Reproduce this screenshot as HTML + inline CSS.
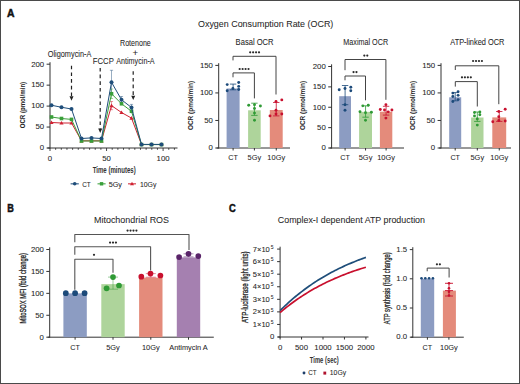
<!DOCTYPE html>
<html><head><meta charset="utf-8"><style>
html,body{margin:0;padding:0;background:#fff;}
svg{display:block;font-family:"Liberation Sans", sans-serif;}
</style></head><body>
<svg width="520" height="384" viewBox="0 0 520 384">
<rect x="0.5" y="0.5" width="519" height="383" fill="#fff" stroke="#4a4a4a" stroke-width="1"/>
<text x="6.9" y="16.8" font-size="10.0" text-anchor="start" font-weight="bold" fill="#111" textLength="7.5" lengthAdjust="spacingAndGlyphs" stroke="#111" stroke-width="0.45">A</text>
<text x="7.2" y="212.1" font-size="10.1" text-anchor="start" font-weight="bold" fill="#111" textLength="6.6" lengthAdjust="spacingAndGlyphs" stroke="#111" stroke-width="0.45">B</text>
<text x="229.0" y="212.1" font-size="10.1" text-anchor="start" font-weight="bold" fill="#111" textLength="6.8" lengthAdjust="spacingAndGlyphs" stroke="#111" stroke-width="0.45">C</text>
<text x="198.0" y="27.2" font-size="9.8" text-anchor="start" font-weight="normal" fill="#262626" textLength="135.3" lengthAdjust="spacingAndGlyphs" stroke="#262626" stroke-width="0.05">Oxygen Consumption Rate (OCR)</text>
<text x="94.0" y="222.6" font-size="9.6" text-anchor="start" font-weight="normal" fill="#262626" textLength="75" lengthAdjust="spacingAndGlyphs" stroke="#262626" stroke-width="0.05">Mitochondrial ROS</text>
<text x="277.8" y="223.0" font-size="9.6" text-anchor="start" font-weight="normal" fill="#262626" textLength="147.2" lengthAdjust="spacingAndGlyphs" stroke="#262626" stroke-width="0.05">Complex-I dependent ATP production</text>
<line x1="50.0" y1="62.2" x2="50.0" y2="148.5" stroke="#333333" stroke-width="1.0"/>
<line x1="46.6" y1="64.2" x2="50.0" y2="64.2" stroke="#333333" stroke-width="1.0"/>
<text x="44.2" y="66.5" font-size="7.8" text-anchor="end" font-weight="normal" fill="#262626" stroke="#262626" stroke-width="0.06">200</text>
<line x1="46.6" y1="85.15" x2="50.0" y2="85.15" stroke="#333333" stroke-width="1.0"/>
<text x="44.2" y="87.45" font-size="7.8" text-anchor="end" font-weight="normal" fill="#262626" stroke="#262626" stroke-width="0.06">150</text>
<line x1="46.6" y1="106.1" x2="50.0" y2="106.1" stroke="#333333" stroke-width="1.0"/>
<text x="44.2" y="108.39999999999999" font-size="7.8" text-anchor="end" font-weight="normal" fill="#262626" stroke="#262626" stroke-width="0.06">100</text>
<line x1="46.6" y1="127.05" x2="50.0" y2="127.05" stroke="#333333" stroke-width="1.0"/>
<text x="44.2" y="129.35" font-size="7.8" text-anchor="end" font-weight="normal" fill="#262626" stroke="#262626" stroke-width="0.06">50</text>
<line x1="46.6" y1="148.0" x2="50.0" y2="148.0" stroke="#333333" stroke-width="1.0"/>
<text x="44.2" y="150.3" font-size="7.8" text-anchor="end" font-weight="normal" fill="#262626" stroke="#262626" stroke-width="0.06">0</text>
<line x1="47.5" y1="148.0" x2="177.5" y2="148.0" stroke="#333333" stroke-width="1.0"/>
<line x1="50.0" y1="148.0" x2="50.0" y2="151.0" stroke="#333333" stroke-width="0.9"/>
<line x1="55.655" y1="148.0" x2="55.655" y2="149.8" stroke="#333333" stroke-width="0.9"/>
<line x1="61.31" y1="148.0" x2="61.31" y2="149.8" stroke="#333333" stroke-width="0.9"/>
<line x1="66.965" y1="148.0" x2="66.965" y2="149.8" stroke="#333333" stroke-width="0.9"/>
<line x1="72.62" y1="148.0" x2="72.62" y2="149.8" stroke="#333333" stroke-width="0.9"/>
<line x1="78.275" y1="148.0" x2="78.275" y2="149.8" stroke="#333333" stroke-width="0.9"/>
<line x1="83.93" y1="148.0" x2="83.93" y2="149.8" stroke="#333333" stroke-width="0.9"/>
<line x1="89.58500000000001" y1="148.0" x2="89.58500000000001" y2="149.8" stroke="#333333" stroke-width="0.9"/>
<line x1="95.24000000000001" y1="148.0" x2="95.24000000000001" y2="149.8" stroke="#333333" stroke-width="0.9"/>
<line x1="100.89500000000001" y1="148.0" x2="100.89500000000001" y2="149.8" stroke="#333333" stroke-width="0.9"/>
<line x1="106.55000000000001" y1="148.0" x2="106.55000000000001" y2="151.0" stroke="#333333" stroke-width="0.9"/>
<line x1="112.20500000000001" y1="148.0" x2="112.20500000000001" y2="149.8" stroke="#333333" stroke-width="0.9"/>
<line x1="117.86" y1="148.0" x2="117.86" y2="149.8" stroke="#333333" stroke-width="0.9"/>
<line x1="123.515" y1="148.0" x2="123.515" y2="149.8" stroke="#333333" stroke-width="0.9"/>
<line x1="129.17000000000002" y1="148.0" x2="129.17000000000002" y2="149.8" stroke="#333333" stroke-width="0.9"/>
<line x1="134.825" y1="148.0" x2="134.825" y2="149.8" stroke="#333333" stroke-width="0.9"/>
<line x1="140.48000000000002" y1="148.0" x2="140.48000000000002" y2="149.8" stroke="#333333" stroke-width="0.9"/>
<line x1="146.135" y1="148.0" x2="146.135" y2="149.8" stroke="#333333" stroke-width="0.9"/>
<line x1="151.79000000000002" y1="148.0" x2="151.79000000000002" y2="149.8" stroke="#333333" stroke-width="0.9"/>
<line x1="157.445" y1="148.0" x2="157.445" y2="149.8" stroke="#333333" stroke-width="0.9"/>
<line x1="163.10000000000002" y1="148.0" x2="163.10000000000002" y2="151.0" stroke="#333333" stroke-width="0.9"/>
<line x1="168.755" y1="148.0" x2="168.755" y2="149.8" stroke="#333333" stroke-width="0.9"/>
<line x1="174.41000000000003" y1="148.0" x2="174.41000000000003" y2="149.8" stroke="#333333" stroke-width="0.9"/>
<text x="50.0" y="160.8" font-size="7.8" text-anchor="middle" font-weight="normal" fill="#262626" stroke="#262626" stroke-width="0.06">0</text>
<text x="106.55" y="160.8" font-size="7.8" text-anchor="middle" font-weight="normal" fill="#262626" stroke="#262626" stroke-width="0.06">50</text>
<text x="163.1" y="160.8" font-size="7.8" text-anchor="middle" font-weight="normal" fill="#262626" stroke="#262626" stroke-width="0.06">100</text>
<text x="92.7" y="173.1" font-size="8.3" text-anchor="start" font-weight="bold" fill="#333" textLength="43.0" lengthAdjust="spacingAndGlyphs">Time (minutes)</text>
<text transform="translate(24.6,105.1) rotate(-90)" x="0" y="0" font-size="7.6" text-anchor="middle" font-weight="bold" fill="#262626" textLength="46.5" lengthAdjust="spacingAndGlyphs">OCR (pmol/min)</text>
<line x1="71.5" y1="65.7" x2="71.5" y2="96.5" stroke="#222" stroke-width="1.2" stroke-dasharray="3.6 3.1"/>
<polygon points="69.5,96.3 73.5,96.3 71.5,100.7" fill="#222"/>
<line x1="100.2" y1="67.9" x2="100.2" y2="128.70000000000002" stroke="#222" stroke-width="1.2" stroke-dasharray="3.6 3.1"/>
<polygon points="98.2,128.5 102.2,128.5 100.2,132.9" fill="#222"/>
<line x1="133.2" y1="71.2" x2="133.2" y2="95.89999999999999" stroke="#222" stroke-width="1.2" stroke-dasharray="3.6 3.1"/>
<polygon points="131.2,95.69999999999999 135.2,95.69999999999999 133.2,100.1" fill="#222"/>
<text x="47.8" y="57.3" font-size="8.2" text-anchor="start" font-weight="normal" fill="#262626" textLength="43.5" lengthAdjust="spacingAndGlyphs" stroke="#262626" stroke-width="0.06">Oligomycin-A</text>
<text x="92.8" y="63.9" font-size="8.2" text-anchor="start" font-weight="normal" fill="#262626" textLength="21.0" lengthAdjust="spacingAndGlyphs" stroke="#262626" stroke-width="0.06">FCCP</text>
<text x="120.0" y="45.8" font-size="8.2" text-anchor="start" font-weight="normal" fill="#262626" textLength="30.8" lengthAdjust="spacingAndGlyphs" stroke="#262626" stroke-width="0.06">Rotenone</text>
<text x="135.4" y="56.4" font-size="9.6" text-anchor="middle" font-weight="normal" fill="#262626" stroke="#262626" stroke-width="0.06">+</text>
<text x="116.2" y="63.9" font-size="8.2" text-anchor="start" font-weight="normal" fill="#262626" textLength="38.4" lengthAdjust="spacingAndGlyphs" stroke="#262626" stroke-width="0.06">Antimycin-A</text>
<line x1="111.5" y1="70.3" x2="111.5" y2="94" stroke="#1f4e7a" stroke-width="0.7" stroke-opacity="0.65"/>
<line x1="109.9" y1="70.3" x2="113.1" y2="70.3" stroke="#1f4e7a" stroke-width="0.7" stroke-opacity="0.65"/>
<line x1="109.9" y1="94" x2="113.1" y2="94" stroke="#1f4e7a" stroke-width="0.7" stroke-opacity="0.65"/>
<line x1="121.5" y1="96.5" x2="121.5" y2="103" stroke="#1f4e7a" stroke-width="0.7" stroke-opacity="0.65"/>
<line x1="119.9" y1="96.5" x2="123.1" y2="96.5" stroke="#1f4e7a" stroke-width="0.7" stroke-opacity="0.65"/>
<line x1="119.9" y1="103" x2="123.1" y2="103" stroke="#1f4e7a" stroke-width="0.7" stroke-opacity="0.65"/>
<line x1="131.5" y1="104.4" x2="131.5" y2="110.6" stroke="#1f4e7a" stroke-width="0.7" stroke-opacity="0.65"/>
<line x1="129.9" y1="104.4" x2="133.1" y2="104.4" stroke="#1f4e7a" stroke-width="0.7" stroke-opacity="0.65"/>
<line x1="129.9" y1="110.6" x2="133.1" y2="110.6" stroke="#1f4e7a" stroke-width="0.7" stroke-opacity="0.65"/>
<line x1="111.5" y1="89" x2="111.5" y2="98.5" stroke="#3a9f3a" stroke-width="0.7" stroke-opacity="0.65"/>
<line x1="109.9" y1="89" x2="113.1" y2="89" stroke="#3a9f3a" stroke-width="0.7" stroke-opacity="0.65"/>
<line x1="109.9" y1="98.5" x2="113.1" y2="98.5" stroke="#3a9f3a" stroke-width="0.7" stroke-opacity="0.65"/>
<line x1="111.5" y1="101.5" x2="111.5" y2="109.7" stroke="#cf2232" stroke-width="0.7" stroke-opacity="0.65"/>
<line x1="109.9" y1="101.5" x2="113.1" y2="101.5" stroke="#cf2232" stroke-width="0.7" stroke-opacity="0.65"/>
<line x1="109.9" y1="109.7" x2="113.1" y2="109.7" stroke="#cf2232" stroke-width="0.7" stroke-opacity="0.65"/>
<polyline points="51.5,122.5 61.5,123.0 71.5,123.0 81.5,140.8 91.5,140.8 101.5,140.8 111.5,105.6 121.5,112.5 131.5,118.1 141.5,144.5 151.5,144.5 161.5,144.5" fill="none" stroke="#cf2232" stroke-width="1.0" stroke-linejoin="round"/>
<polygon points="49.4,124.1 53.6,124.1 51.5,120.4" fill="#cf2232"/>
<polygon points="59.4,124.6 63.6,124.6 61.5,120.9" fill="#cf2232"/>
<polygon points="69.4,124.6 73.6,124.6 71.5,120.9" fill="#cf2232"/>
<polygon points="79.4,142.4 83.6,142.4 81.5,138.70000000000002" fill="#cf2232"/>
<polygon points="89.4,142.4 93.6,142.4 91.5,138.70000000000002" fill="#cf2232"/>
<polygon points="99.4,142.4 103.6,142.4 101.5,138.70000000000002" fill="#cf2232"/>
<polygon points="109.4,107.19999999999999 113.6,107.19999999999999 111.5,103.5" fill="#cf2232"/>
<polygon points="119.4,114.1 123.6,114.1 121.5,110.4" fill="#cf2232"/>
<polygon points="129.4,119.69999999999999 133.6,119.69999999999999 131.5,116.0" fill="#cf2232"/>
<polygon points="139.4,146.1 143.6,146.1 141.5,142.4" fill="#cf2232"/>
<polygon points="149.4,146.1 153.6,146.1 151.5,142.4" fill="#cf2232"/>
<polygon points="159.4,146.1 163.6,146.1 161.5,142.4" fill="#cf2232"/>
<polyline points="51.5,117.0 61.5,118.5 71.5,119.4 81.5,141.0 91.5,141.0 101.5,141.0 111.5,93.75 121.5,103.75 131.5,111.25 141.5,144.6 151.5,144.6 161.5,144.6" fill="none" stroke="#3a9f3a" stroke-width="1.0" stroke-linejoin="round"/>
<rect x="49.7" y="115.2" width="3.6" height="3.6" fill="#3a9f3a"/>
<rect x="59.7" y="116.7" width="3.6" height="3.6" fill="#3a9f3a"/>
<rect x="69.7" y="117.60000000000001" width="3.6" height="3.6" fill="#3a9f3a"/>
<rect x="79.7" y="139.2" width="3.6" height="3.6" fill="#3a9f3a"/>
<rect x="89.7" y="139.2" width="3.6" height="3.6" fill="#3a9f3a"/>
<rect x="99.7" y="139.2" width="3.6" height="3.6" fill="#3a9f3a"/>
<rect x="109.7" y="91.95" width="3.6" height="3.6" fill="#3a9f3a"/>
<rect x="119.7" y="101.95" width="3.6" height="3.6" fill="#3a9f3a"/>
<rect x="129.7" y="109.45" width="3.6" height="3.6" fill="#3a9f3a"/>
<rect x="139.7" y="142.79999999999998" width="3.6" height="3.6" fill="#3a9f3a"/>
<rect x="149.7" y="142.79999999999998" width="3.6" height="3.6" fill="#3a9f3a"/>
<rect x="159.7" y="142.79999999999998" width="3.6" height="3.6" fill="#3a9f3a"/>
<polyline points="51.5,105.25 61.5,107.25 71.5,109.0 81.5,138.5 91.5,137.9 101.5,138.5 111.5,82.25 121.5,99.75 131.5,107.5 141.5,144.4 151.5,144.4 161.5,144.4" fill="none" stroke="#1f4e7a" stroke-width="1.0" stroke-linejoin="round"/>
<circle cx="51.5" cy="105.25" r="2.0" fill="#1f4e7a" stroke="none" stroke-width="0"/>
<circle cx="61.5" cy="107.25" r="2.0" fill="#1f4e7a" stroke="none" stroke-width="0"/>
<circle cx="71.5" cy="109.0" r="2.0" fill="#1f4e7a" stroke="none" stroke-width="0"/>
<circle cx="81.5" cy="138.5" r="2.0" fill="#1f4e7a" stroke="none" stroke-width="0"/>
<circle cx="91.5" cy="137.9" r="2.0" fill="#1f4e7a" stroke="none" stroke-width="0"/>
<circle cx="101.5" cy="138.5" r="2.0" fill="#1f4e7a" stroke="none" stroke-width="0"/>
<circle cx="111.5" cy="82.25" r="2.0" fill="#1f4e7a" stroke="none" stroke-width="0"/>
<circle cx="121.5" cy="99.75" r="2.0" fill="#1f4e7a" stroke="none" stroke-width="0"/>
<circle cx="131.5" cy="107.5" r="2.0" fill="#1f4e7a" stroke="none" stroke-width="0"/>
<circle cx="141.5" cy="144.4" r="2.0" fill="#1f4e7a" stroke="none" stroke-width="0"/>
<circle cx="151.5" cy="144.4" r="2.0" fill="#1f4e7a" stroke="none" stroke-width="0"/>
<circle cx="161.5" cy="144.4" r="2.0" fill="#1f4e7a" stroke="none" stroke-width="0"/>
<line x1="70.6" y1="183.8" x2="78.8" y2="183.8" stroke="#1f4e7a" stroke-width="1.3" stroke-opacity="0.8"/>
<circle cx="74.69999999999999" cy="183.8" r="1.8" fill="#1f4e7a" stroke="none" stroke-width="0"/>
<text x="82.2" y="186.6" font-size="7.9" text-anchor="start" font-weight="normal" fill="#262626" textLength="8.6" lengthAdjust="spacingAndGlyphs" stroke="#262626" stroke-width="0.06">CT</text>
<line x1="97.5" y1="183.8" x2="105.6" y2="183.8" stroke="#3a9f3a" stroke-width="1.3" stroke-opacity="0.8"/>
<rect x="99.85" y="182.10000000000002" width="3.4" height="3.4" fill="#3a9f3a"/>
<text x="108.7" y="186.6" font-size="7.9" text-anchor="start" font-weight="normal" fill="#262626" textLength="13.3" lengthAdjust="spacingAndGlyphs" stroke="#262626" stroke-width="0.06">5Gy</text>
<line x1="128.0" y1="183.8" x2="136.0" y2="183.8" stroke="#cf2232" stroke-width="1.3" stroke-opacity="0.8"/>
<polygon points="130.0,185.3 134.0,185.3 132.0,181.8" fill="#cf2232"/>
<text x="139.9" y="186.6" font-size="7.9" text-anchor="start" font-weight="normal" fill="#262626" textLength="16.5" lengthAdjust="spacingAndGlyphs" stroke="#262626" stroke-width="0.06">10Gy</text>
<line x1="218.7" y1="63.2" x2="218.7" y2="148.5" stroke="#333333" stroke-width="1.0"/>
<line x1="215.29999999999998" y1="65.4" x2="218.7" y2="65.4" stroke="#333333" stroke-width="1.0"/>
<text x="212.89999999999998" y="67.7" font-size="7.8" text-anchor="end" font-weight="normal" fill="#262626" stroke="#262626" stroke-width="0.06">150</text>
<line x1="215.29999999999998" y1="92.93333333333334" x2="218.7" y2="92.93333333333334" stroke="#333333" stroke-width="1.0"/>
<text x="212.89999999999998" y="95.23333333333333" font-size="7.8" text-anchor="end" font-weight="normal" fill="#262626" stroke="#262626" stroke-width="0.06">100</text>
<line x1="215.29999999999998" y1="120.46666666666667" x2="218.7" y2="120.46666666666667" stroke="#333333" stroke-width="1.0"/>
<text x="212.89999999999998" y="122.76666666666667" font-size="7.8" text-anchor="end" font-weight="normal" fill="#262626" stroke="#262626" stroke-width="0.06">50</text>
<line x1="215.29999999999998" y1="148.0" x2="218.7" y2="148.0" stroke="#333333" stroke-width="1.0"/>
<text x="212.89999999999998" y="150.3" font-size="7.8" text-anchor="end" font-weight="normal" fill="#262626" stroke="#262626" stroke-width="0.06">0</text>
<line x1="216.7" y1="148.0" x2="290.0" y2="148.0" stroke="#333333" stroke-width="1.0"/>
<text transform="translate(193.1,105.5) rotate(-90)" x="0" y="0" font-size="7.6" text-anchor="middle" font-weight="bold" fill="#262626" textLength="49.2" lengthAdjust="spacingAndGlyphs">OCR (pmol/min)</text>
<rect x="226.6" y="88.5" width="13.0" height="59.5" fill="#8c9cc2"/>
<line x1="233.1" y1="148.0" x2="233.1" y2="150.5" stroke="#333333" stroke-width="1.0"/>
<text x="233.1" y="160.4" font-size="8.0" text-anchor="middle" font-weight="normal" fill="#262626" textLength="9.6" lengthAdjust="spacingAndGlyphs" stroke="#262626" stroke-width="0.06">CT</text>
<line x1="233.1" y1="84.1" x2="233.1" y2="89.8" stroke="#1c4a7a" stroke-width="0.8"/>
<line x1="229.9" y1="84.1" x2="236.29999999999998" y2="84.1" stroke="#1c4a7a" stroke-width="0.8"/>
<line x1="229.9" y1="89.8" x2="236.29999999999998" y2="89.8" stroke="#1c4a7a" stroke-width="0.8"/>
<circle cx="227.2" cy="84.6" r="1.45" fill="#1c4a7a" stroke="none" stroke-width="0"/>
<circle cx="238.7" cy="82.5" r="1.45" fill="#1c4a7a" stroke="none" stroke-width="0"/>
<circle cx="238.7" cy="86.4" r="1.45" fill="#1c4a7a" stroke="none" stroke-width="0"/>
<circle cx="238.7" cy="89.5" r="1.45" fill="#1c4a7a" stroke="none" stroke-width="0"/>
<circle cx="227.2" cy="90.8" r="1.45" fill="#1c4a7a" stroke="none" stroke-width="0"/>
<circle cx="232.9" cy="88.5" r="1.45" fill="#1c4a7a" stroke="none" stroke-width="0"/>
<rect x="248.1" y="110.3" width="12.599999999999994" height="37.7" fill="#aed49b"/>
<line x1="254.39999999999998" y1="148.0" x2="254.39999999999998" y2="150.5" stroke="#333333" stroke-width="1.0"/>
<text x="254.39999999999998" y="160.4" font-size="8.0" text-anchor="middle" font-weight="normal" fill="#262626" textLength="13.6" lengthAdjust="spacingAndGlyphs" stroke="#262626" stroke-width="0.06">5Gy</text>
<line x1="254.39999999999998" y1="103.2" x2="254.39999999999998" y2="115.4" stroke="#2f9a35" stroke-width="0.8"/>
<line x1="251.2" y1="103.2" x2="257.59999999999997" y2="103.2" stroke="#2f9a35" stroke-width="0.8"/>
<line x1="251.2" y1="115.4" x2="257.59999999999997" y2="115.4" stroke="#2f9a35" stroke-width="0.8"/>
<circle cx="248.7" cy="105.2" r="1.45" fill="#2f9a35" stroke="none" stroke-width="0"/>
<circle cx="260.4" cy="106" r="1.45" fill="#2f9a35" stroke="none" stroke-width="0"/>
<circle cx="254.5" cy="104.8" r="1.45" fill="#2f9a35" stroke="none" stroke-width="0"/>
<circle cx="254.5" cy="108.5" r="1.45" fill="#2f9a35" stroke="none" stroke-width="0"/>
<circle cx="254.5" cy="113.1" r="1.45" fill="#2f9a35" stroke="none" stroke-width="0"/>
<circle cx="254.5" cy="120.2" r="1.45" fill="#2f9a35" stroke="none" stroke-width="0"/>
<rect x="269.8" y="110.0" width="12.899999999999977" height="38.0" fill="#e48b7b"/>
<line x1="276.25" y1="148.0" x2="276.25" y2="150.5" stroke="#333333" stroke-width="1.0"/>
<text x="276.25" y="160.4" font-size="8.0" text-anchor="middle" font-weight="normal" fill="#262626" textLength="17.8" lengthAdjust="spacingAndGlyphs" stroke="#262626" stroke-width="0.06">10Gy</text>
<line x1="276.25" y1="102.5" x2="276.25" y2="115.9" stroke="#c8102e" stroke-width="0.8"/>
<line x1="273.05" y1="102.5" x2="279.45" y2="102.5" stroke="#c8102e" stroke-width="0.8"/>
<line x1="273.05" y1="115.9" x2="279.45" y2="115.9" stroke="#c8102e" stroke-width="0.8"/>
<circle cx="281.8" cy="99.9" r="1.45" fill="#c8102e" stroke="none" stroke-width="0"/>
<circle cx="276" cy="101.5" r="1.45" fill="#c8102e" stroke="none" stroke-width="0"/>
<circle cx="276" cy="110.3" r="1.45" fill="#c8102e" stroke="none" stroke-width="0"/>
<circle cx="270" cy="115.9" r="1.45" fill="#c8102e" stroke="none" stroke-width="0"/>
<circle cx="276" cy="114" r="1.45" fill="#c8102e" stroke="none" stroke-width="0"/>
<circle cx="281.8" cy="114" r="1.45" fill="#c8102e" stroke="none" stroke-width="0"/>
<polyline points="233.0,60.4 233.0,56.3 276.0,56.3 276.0,94.5" fill="none" stroke="#444" stroke-width="1.0" stroke-linejoin="round"/>
<circle cx="250.17499999999998" cy="52.3" r="1.1" fill="#2a2a2a" stroke="none" stroke-width="0"/>
<circle cx="253.12499999999997" cy="52.3" r="1.1" fill="#2a2a2a" stroke="none" stroke-width="0"/>
<circle cx="256.075" cy="52.3" r="1.1" fill="#2a2a2a" stroke="none" stroke-width="0"/>
<circle cx="259.025" cy="52.3" r="1.1" fill="#2a2a2a" stroke="none" stroke-width="0"/>
<polyline points="233.0,77.3 233.0,72.9 254.4,72.9 254.4,98.4" fill="none" stroke="#444" stroke-width="1.0" stroke-linejoin="round"/>
<circle cx="239.67499999999998" cy="69.0" r="1.1" fill="#2a2a2a" stroke="none" stroke-width="0"/>
<circle cx="242.62499999999997" cy="69.0" r="1.1" fill="#2a2a2a" stroke="none" stroke-width="0"/>
<circle cx="245.575" cy="69.0" r="1.1" fill="#2a2a2a" stroke="none" stroke-width="0"/>
<circle cx="248.52499999999998" cy="69.0" r="1.1" fill="#2a2a2a" stroke="none" stroke-width="0"/>
<text x="235.6" y="44.8" font-size="8.2" text-anchor="start" font-weight="normal" fill="#262626" textLength="38" lengthAdjust="spacingAndGlyphs" stroke="#262626" stroke-width="0.06">Basal OCR</text>
<line x1="331.6" y1="64.3" x2="331.6" y2="148.5" stroke="#333333" stroke-width="1.0"/>
<line x1="328.20000000000005" y1="66.5" x2="331.6" y2="66.5" stroke="#333333" stroke-width="1.0"/>
<text x="325.8" y="68.8" font-size="7.8" text-anchor="end" font-weight="normal" fill="#262626" stroke="#262626" stroke-width="0.06">200</text>
<line x1="328.20000000000005" y1="86.875" x2="331.6" y2="86.875" stroke="#333333" stroke-width="1.0"/>
<text x="325.8" y="89.175" font-size="7.8" text-anchor="end" font-weight="normal" fill="#262626" stroke="#262626" stroke-width="0.06">150</text>
<line x1="328.20000000000005" y1="107.25" x2="331.6" y2="107.25" stroke="#333333" stroke-width="1.0"/>
<text x="325.8" y="109.55" font-size="7.8" text-anchor="end" font-weight="normal" fill="#262626" stroke="#262626" stroke-width="0.06">100</text>
<line x1="328.20000000000005" y1="127.625" x2="331.6" y2="127.625" stroke="#333333" stroke-width="1.0"/>
<text x="325.8" y="129.925" font-size="7.8" text-anchor="end" font-weight="normal" fill="#262626" stroke="#262626" stroke-width="0.06">50</text>
<line x1="328.20000000000005" y1="148.0" x2="331.6" y2="148.0" stroke="#333333" stroke-width="1.0"/>
<text x="325.8" y="150.3" font-size="7.8" text-anchor="end" font-weight="normal" fill="#262626" stroke="#262626" stroke-width="0.06">0</text>
<line x1="329.6" y1="148.0" x2="404.0" y2="148.0" stroke="#333333" stroke-width="1.0"/>
<text transform="translate(305.20000000000005,105.5) rotate(-90)" x="0" y="0" font-size="7.6" text-anchor="middle" font-weight="bold" fill="#262626" textLength="49.2" lengthAdjust="spacingAndGlyphs">OCR (pmol/min)</text>
<rect x="339.2" y="96.2" width="11.800000000000011" height="51.8" fill="#8c9cc2"/>
<line x1="345.1" y1="148.0" x2="345.1" y2="150.5" stroke="#333333" stroke-width="1.0"/>
<text x="345.1" y="160.4" font-size="8.0" text-anchor="middle" font-weight="normal" fill="#262626" textLength="9.6" lengthAdjust="spacingAndGlyphs" stroke="#262626" stroke-width="0.06">CT</text>
<line x1="345.1" y1="85.5" x2="345.1" y2="104.7" stroke="#1c4a7a" stroke-width="0.8"/>
<line x1="341.90000000000003" y1="85.5" x2="348.3" y2="85.5" stroke="#1c4a7a" stroke-width="0.8"/>
<line x1="341.90000000000003" y1="104.7" x2="348.3" y2="104.7" stroke="#1c4a7a" stroke-width="0.8"/>
<circle cx="339.2" cy="89.7" r="1.45" fill="#1c4a7a" stroke="none" stroke-width="0"/>
<circle cx="345" cy="88.5" r="1.45" fill="#1c4a7a" stroke="none" stroke-width="0"/>
<circle cx="350.8" cy="87.2" r="1.45" fill="#1c4a7a" stroke="none" stroke-width="0"/>
<circle cx="350.8" cy="90.75" r="1.45" fill="#1c4a7a" stroke="none" stroke-width="0"/>
<circle cx="345" cy="104.7" r="1.45" fill="#1c4a7a" stroke="none" stroke-width="0"/>
<circle cx="345" cy="110.2" r="1.45" fill="#1c4a7a" stroke="none" stroke-width="0"/>
<rect x="359.1" y="111.85" width="12.899999999999977" height="36.150000000000006" fill="#aed49b"/>
<line x1="365.55" y1="148.0" x2="365.55" y2="150.5" stroke="#333333" stroke-width="1.0"/>
<text x="365.55" y="160.4" font-size="8.0" text-anchor="middle" font-weight="normal" fill="#262626" textLength="13.6" lengthAdjust="spacingAndGlyphs" stroke="#262626" stroke-width="0.06">5Gy</text>
<line x1="365.55" y1="105.85" x2="365.55" y2="117.2" stroke="#2f9a35" stroke-width="0.8"/>
<line x1="362.35" y1="105.85" x2="368.75" y2="105.85" stroke="#2f9a35" stroke-width="0.8"/>
<line x1="362.35" y1="117.2" x2="368.75" y2="117.2" stroke="#2f9a35" stroke-width="0.8"/>
<circle cx="362.8" cy="105.85" r="1.45" fill="#2f9a35" stroke="none" stroke-width="0"/>
<circle cx="368.3" cy="105.2" r="1.45" fill="#2f9a35" stroke="none" stroke-width="0"/>
<circle cx="360" cy="111.7" r="1.45" fill="#2f9a35" stroke="none" stroke-width="0"/>
<circle cx="371.4" cy="112.3" r="1.45" fill="#2f9a35" stroke="none" stroke-width="0"/>
<circle cx="365.5" cy="112.8" r="1.45" fill="#2f9a35" stroke="none" stroke-width="0"/>
<circle cx="365.5" cy="120.3" r="1.45" fill="#2f9a35" stroke="none" stroke-width="0"/>
<rect x="379.9" y="111.7" width="12.400000000000034" height="36.3" fill="#e48b7b"/>
<line x1="386.1" y1="148.0" x2="386.1" y2="150.5" stroke="#333333" stroke-width="1.0"/>
<text x="386.1" y="160.4" font-size="8.0" text-anchor="middle" font-weight="normal" fill="#262626" textLength="17.8" lengthAdjust="spacingAndGlyphs" stroke="#262626" stroke-width="0.06">10Gy</text>
<line x1="386.1" y1="106.3" x2="386.1" y2="115.1" stroke="#c8102e" stroke-width="0.8"/>
<line x1="382.90000000000003" y1="106.3" x2="389.3" y2="106.3" stroke="#c8102e" stroke-width="0.8"/>
<line x1="382.90000000000003" y1="115.1" x2="389.3" y2="115.1" stroke="#c8102e" stroke-width="0.8"/>
<circle cx="385.9" cy="104.65" r="1.45" fill="#c8102e" stroke="none" stroke-width="0"/>
<circle cx="380.3" cy="109.5" r="1.45" fill="#c8102e" stroke="none" stroke-width="0"/>
<circle cx="391.9" cy="110" r="1.45" fill="#c8102e" stroke="none" stroke-width="0"/>
<circle cx="384.5" cy="110" r="1.45" fill="#c8102e" stroke="none" stroke-width="0"/>
<circle cx="388.2" cy="111.85" r="1.45" fill="#c8102e" stroke="none" stroke-width="0"/>
<circle cx="385.9" cy="118.1" r="1.45" fill="#c8102e" stroke="none" stroke-width="0"/>
<polyline points="345.0,70.2 345.0,59.5 385.9,59.5 385.9,99.8" fill="none" stroke="#444" stroke-width="1.0" stroke-linejoin="round"/>
<circle cx="364.325" cy="55.6" r="1.1" fill="#2a2a2a" stroke="none" stroke-width="0"/>
<circle cx="367.275" cy="55.6" r="1.1" fill="#2a2a2a" stroke="none" stroke-width="0"/>
<polyline points="345.0,80.3 345.0,76.0 365.5,76.0 365.5,100.3" fill="none" stroke="#444" stroke-width="1.0" stroke-linejoin="round"/>
<circle cx="353.525" cy="72.1" r="1.1" fill="#2a2a2a" stroke="none" stroke-width="0"/>
<circle cx="356.47499999999997" cy="72.1" r="1.1" fill="#2a2a2a" stroke="none" stroke-width="0"/>
<text x="343.3" y="44.7" font-size="8.2" text-anchor="start" font-weight="normal" fill="#262626" textLength="44.8" lengthAdjust="spacingAndGlyphs" stroke="#262626" stroke-width="0.06">Maximal OCR</text>
<line x1="441.0" y1="63.2" x2="441.0" y2="148.5" stroke="#333333" stroke-width="1.0"/>
<line x1="437.6" y1="65.4" x2="441.0" y2="65.4" stroke="#333333" stroke-width="1.0"/>
<text x="435.2" y="67.7" font-size="7.8" text-anchor="end" font-weight="normal" fill="#262626" stroke="#262626" stroke-width="0.06">150</text>
<line x1="437.6" y1="92.93333333333334" x2="441.0" y2="92.93333333333334" stroke="#333333" stroke-width="1.0"/>
<text x="435.2" y="95.23333333333333" font-size="7.8" text-anchor="end" font-weight="normal" fill="#262626" stroke="#262626" stroke-width="0.06">100</text>
<line x1="437.6" y1="120.46666666666667" x2="441.0" y2="120.46666666666667" stroke="#333333" stroke-width="1.0"/>
<text x="435.2" y="122.76666666666667" font-size="7.8" text-anchor="end" font-weight="normal" fill="#262626" stroke="#262626" stroke-width="0.06">50</text>
<line x1="437.6" y1="148.0" x2="441.0" y2="148.0" stroke="#333333" stroke-width="1.0"/>
<text x="435.2" y="150.3" font-size="7.8" text-anchor="end" font-weight="normal" fill="#262626" stroke="#262626" stroke-width="0.06">0</text>
<line x1="439.0" y1="148.0" x2="511.0" y2="148.0" stroke="#333333" stroke-width="1.0"/>
<text transform="translate(415.1,105.5) rotate(-90)" x="0" y="0" font-size="7.6" text-anchor="middle" font-weight="bold" fill="#262626" textLength="49.2" lengthAdjust="spacingAndGlyphs">OCR (pmol/min)</text>
<rect x="449.2" y="97.3" width="12.0" height="50.7" fill="#8c9cc2"/>
<line x1="455.2" y1="148.0" x2="455.2" y2="150.5" stroke="#333333" stroke-width="1.0"/>
<text x="455.2" y="160.4" font-size="8.0" text-anchor="middle" font-weight="normal" fill="#262626" textLength="9.6" lengthAdjust="spacingAndGlyphs" stroke="#262626" stroke-width="0.06">CT</text>
<line x1="455.2" y1="92.6" x2="455.2" y2="100.8" stroke="#1c4a7a" stroke-width="0.8"/>
<line x1="452.0" y1="92.6" x2="458.4" y2="92.6" stroke="#1c4a7a" stroke-width="0.8"/>
<line x1="452.0" y1="100.8" x2="458.4" y2="100.8" stroke="#1c4a7a" stroke-width="0.8"/>
<circle cx="452.85" cy="93.1" r="1.45" fill="#1c4a7a" stroke="none" stroke-width="0"/>
<circle cx="458.1" cy="91.7" r="1.45" fill="#1c4a7a" stroke="none" stroke-width="0"/>
<circle cx="452.85" cy="96.5" r="1.45" fill="#1c4a7a" stroke="none" stroke-width="0"/>
<circle cx="458.1" cy="95.35" r="1.45" fill="#1c4a7a" stroke="none" stroke-width="0"/>
<circle cx="458.1" cy="99.6" r="1.45" fill="#1c4a7a" stroke="none" stroke-width="0"/>
<circle cx="452.85" cy="101.45" r="1.45" fill="#1c4a7a" stroke="none" stroke-width="0"/>
<rect x="471.1" y="117.5" width="12.399999999999977" height="30.5" fill="#aed49b"/>
<line x1="477.3" y1="148.0" x2="477.3" y2="150.5" stroke="#333333" stroke-width="1.0"/>
<text x="477.3" y="160.4" font-size="8.0" text-anchor="middle" font-weight="normal" fill="#262626" textLength="13.6" lengthAdjust="spacingAndGlyphs" stroke="#262626" stroke-width="0.06">5Gy</text>
<line x1="477.3" y1="112.0" x2="477.3" y2="121.4" stroke="#2f9a35" stroke-width="0.8"/>
<line x1="474.1" y1="112.0" x2="480.5" y2="112.0" stroke="#2f9a35" stroke-width="0.8"/>
<line x1="474.1" y1="121.4" x2="480.5" y2="121.4" stroke="#2f9a35" stroke-width="0.8"/>
<circle cx="474.5" cy="112.5" r="1.45" fill="#2f9a35" stroke="none" stroke-width="0"/>
<circle cx="479.85" cy="112" r="1.45" fill="#2f9a35" stroke="none" stroke-width="0"/>
<circle cx="474.5" cy="115.9" r="1.45" fill="#2f9a35" stroke="none" stroke-width="0"/>
<circle cx="479.85" cy="114.8" r="1.45" fill="#2f9a35" stroke="none" stroke-width="0"/>
<circle cx="477.3" cy="118.9" r="1.45" fill="#2f9a35" stroke="none" stroke-width="0"/>
<circle cx="477.3" cy="125.1" r="1.45" fill="#2f9a35" stroke="none" stroke-width="0"/>
<rect x="492.3" y="117.4" width="13.899999999999977" height="30.599999999999994" fill="#e48b7b"/>
<line x1="499.25" y1="148.0" x2="499.25" y2="150.5" stroke="#333333" stroke-width="1.0"/>
<text x="499.25" y="160.4" font-size="8.0" text-anchor="middle" font-weight="normal" fill="#262626" textLength="17.8" lengthAdjust="spacingAndGlyphs" stroke="#262626" stroke-width="0.06">10Gy</text>
<line x1="499.25" y1="111.5" x2="499.25" y2="121.4" stroke="#c8102e" stroke-width="0.8"/>
<line x1="496.05" y1="111.5" x2="502.45" y2="111.5" stroke="#c8102e" stroke-width="0.8"/>
<line x1="496.05" y1="121.4" x2="502.45" y2="121.4" stroke="#c8102e" stroke-width="0.8"/>
<circle cx="505.2" cy="109.2" r="1.45" fill="#c8102e" stroke="none" stroke-width="0"/>
<circle cx="498.8" cy="111.5" r="1.45" fill="#c8102e" stroke="none" stroke-width="0"/>
<circle cx="498.8" cy="116.8" r="1.45" fill="#c8102e" stroke="none" stroke-width="0"/>
<circle cx="492.8" cy="121.7" r="1.45" fill="#c8102e" stroke="none" stroke-width="0"/>
<circle cx="498.8" cy="120.5" r="1.45" fill="#c8102e" stroke="none" stroke-width="0"/>
<circle cx="505.2" cy="121" r="1.45" fill="#c8102e" stroke="none" stroke-width="0"/>
<polyline points="455.3,70.0 455.3,65.8 498.8,65.8 498.8,104.2" fill="none" stroke="#444" stroke-width="1.0" stroke-linejoin="round"/>
<circle cx="473.075" cy="61.0" r="1.1" fill="#2a2a2a" stroke="none" stroke-width="0"/>
<circle cx="476.025" cy="61.0" r="1.1" fill="#2a2a2a" stroke="none" stroke-width="0"/>
<circle cx="478.97499999999997" cy="61.0" r="1.1" fill="#2a2a2a" stroke="none" stroke-width="0"/>
<circle cx="481.925" cy="61.0" r="1.1" fill="#2a2a2a" stroke="none" stroke-width="0"/>
<polyline points="455.3,86.6 455.3,81.6 477.3,81.6 477.3,106.5" fill="none" stroke="#444" stroke-width="1.0" stroke-linejoin="round"/>
<circle cx="461.97499999999997" cy="77.3" r="1.1" fill="#2a2a2a" stroke="none" stroke-width="0"/>
<circle cx="464.92499999999995" cy="77.3" r="1.1" fill="#2a2a2a" stroke="none" stroke-width="0"/>
<circle cx="467.87499999999994" cy="77.3" r="1.1" fill="#2a2a2a" stroke="none" stroke-width="0"/>
<circle cx="470.825" cy="77.3" r="1.1" fill="#2a2a2a" stroke="none" stroke-width="0"/>
<text x="450.3" y="44.7" font-size="8.2" text-anchor="start" font-weight="normal" fill="#262626" textLength="54" lengthAdjust="spacingAndGlyphs" stroke="#262626" stroke-width="0.06">ATP-linked OCR</text>
<line x1="49.7" y1="247.3" x2="49.7" y2="337.7" stroke="#333333" stroke-width="1.0"/>
<line x1="46.300000000000004" y1="249.5" x2="49.7" y2="249.5" stroke="#333333" stroke-width="1.0"/>
<text x="43.900000000000006" y="251.8" font-size="7.8" text-anchor="end" font-weight="normal" fill="#262626" stroke="#262626" stroke-width="0.06">200</text>
<line x1="46.300000000000004" y1="271.42499999999995" x2="49.7" y2="271.42499999999995" stroke="#333333" stroke-width="1.0"/>
<text x="43.900000000000006" y="273.72499999999997" font-size="7.8" text-anchor="end" font-weight="normal" fill="#262626" stroke="#262626" stroke-width="0.06">150</text>
<line x1="46.300000000000004" y1="293.34999999999997" x2="49.7" y2="293.34999999999997" stroke="#333333" stroke-width="1.0"/>
<text x="43.900000000000006" y="295.65" font-size="7.8" text-anchor="end" font-weight="normal" fill="#262626" stroke="#262626" stroke-width="0.06">100</text>
<line x1="46.300000000000004" y1="315.275" x2="49.7" y2="315.275" stroke="#333333" stroke-width="1.0"/>
<text x="43.900000000000006" y="317.575" font-size="7.8" text-anchor="end" font-weight="normal" fill="#262626" stroke="#262626" stroke-width="0.06">50</text>
<line x1="46.300000000000004" y1="337.2" x2="49.7" y2="337.2" stroke="#333333" stroke-width="1.0"/>
<text x="43.900000000000006" y="339.5" font-size="7.8" text-anchor="end" font-weight="normal" fill="#262626" stroke="#262626" stroke-width="0.06">0</text>
<line x1="47.7" y1="337.2" x2="213.8" y2="337.2" stroke="#333333" stroke-width="1.0"/>
<text transform="translate(25.9,288.3) rotate(-90)" x="0" y="0" font-size="8.6" text-anchor="middle" font-weight="normal" fill="#262626" textLength="70.5" lengthAdjust="spacingAndGlyphs" stroke="#262626" stroke-width="0.32">MitoSOX MFI (fold change)</text>
<rect x="63.39999999999999" y="293.34999999999997" width="23.4" height="43.85000000000002" fill="#8c9cc2"/>
<line x1="75.1" y1="337.2" x2="75.1" y2="339.7" stroke="#333333" stroke-width="1.0"/>
<text x="75.1" y="349.75" font-size="8.0" text-anchor="middle" font-weight="normal" fill="#262626" textLength="9.6" lengthAdjust="spacingAndGlyphs" stroke="#262626" stroke-width="0.06">CT</text>
<circle cx="65.8" cy="293.2" r="2.85" fill="#1c4a7a" stroke="none" stroke-width="0"/>
<circle cx="75.1" cy="293.2" r="2.85" fill="#1c4a7a" stroke="none" stroke-width="0"/>
<circle cx="84.6" cy="293.2" r="2.85" fill="#1c4a7a" stroke="none" stroke-width="0"/>
<rect x="101.3" y="284.1415" width="23.4" height="53.05849999999998" fill="#aed49b"/>
<line x1="113.0" y1="337.2" x2="113.0" y2="339.7" stroke="#333333" stroke-width="1.0"/>
<text x="113.0" y="349.75" font-size="8.0" text-anchor="middle" font-weight="normal" fill="#262626" textLength="13.6" lengthAdjust="spacingAndGlyphs" stroke="#262626" stroke-width="0.06">5Gy</text>
<line x1="108.0" y1="277.1" x2="118.0" y2="277.1" stroke="#2f9a35" stroke-width="0.8" stroke-opacity="0.6"/>
<line x1="108.0" y1="289.2" x2="118.0" y2="289.2" stroke="#2f9a35" stroke-width="0.8" stroke-opacity="0.6"/>
<line x1="113.0" y1="277.1" x2="113.0" y2="289.2" stroke="#2f9a35" stroke-width="0.8" stroke-opacity="0.6"/>
<circle cx="113" cy="277.1" r="2.85" fill="#2f9a35" stroke="none" stroke-width="0"/>
<circle cx="106.6" cy="288.3" r="2.85" fill="#2f9a35" stroke="none" stroke-width="0"/>
<circle cx="119" cy="285.5" r="2.85" fill="#2f9a35" stroke="none" stroke-width="0"/>
<rect x="139.10000000000002" y="277.56399999999996" width="23.4" height="59.636000000000024" fill="#e48b7b"/>
<line x1="150.8" y1="337.2" x2="150.8" y2="339.7" stroke="#333333" stroke-width="1.0"/>
<text x="150.8" y="349.75" font-size="8.0" text-anchor="middle" font-weight="normal" fill="#262626" textLength="17.8" lengthAdjust="spacingAndGlyphs" stroke="#262626" stroke-width="0.06">10Gy</text>
<line x1="145.8" y1="273.6" x2="155.8" y2="273.6" stroke="#c8102e" stroke-width="0.8" stroke-opacity="0.6"/>
<line x1="145.8" y1="277.2" x2="155.8" y2="277.2" stroke="#c8102e" stroke-width="0.8" stroke-opacity="0.6"/>
<line x1="150.8" y1="273.6" x2="150.8" y2="277.2" stroke="#c8102e" stroke-width="0.8" stroke-opacity="0.6"/>
<circle cx="141.3" cy="276.7" r="2.85" fill="#c8102e" stroke="none" stroke-width="0"/>
<circle cx="150.5" cy="273.6" r="2.85" fill="#c8102e" stroke="none" stroke-width="0"/>
<circle cx="160.4" cy="275.5" r="2.85" fill="#c8102e" stroke="none" stroke-width="0"/>
<rect x="176.8" y="257.393" width="23.4" height="79.80700000000002" fill="#a580b0"/>
<line x1="188.5" y1="337.2" x2="188.5" y2="339.7" stroke="#333333" stroke-width="1.0"/>
<text x="188.5" y="349.75" font-size="8.0" text-anchor="middle" font-weight="normal" fill="#262626" textLength="38.4" lengthAdjust="spacingAndGlyphs" stroke="#262626" stroke-width="0.06">Antimycin A</text>
<line x1="183.5" y1="253.8" x2="193.5" y2="253.8" stroke="#5a2469" stroke-width="0.8" stroke-opacity="0.6"/>
<line x1="183.5" y1="256.8" x2="193.5" y2="256.8" stroke="#5a2469" stroke-width="0.8" stroke-opacity="0.6"/>
<line x1="188.5" y1="253.8" x2="188.5" y2="256.8" stroke="#5a2469" stroke-width="0.8" stroke-opacity="0.6"/>
<circle cx="179.1" cy="257.1" r="2.85" fill="#5a2469" stroke="none" stroke-width="0"/>
<circle cx="188.5" cy="253.8" r="2.85" fill="#5a2469" stroke="none" stroke-width="0"/>
<circle cx="198.3" cy="256.1" r="2.85" fill="#5a2469" stroke="none" stroke-width="0"/>
<polyline points="74.8,242.2 74.8,234.5 189.0,234.5 189.0,250.0" fill="none" stroke="#555" stroke-width="1.1" stroke-linejoin="round"/>
<circle cx="127.575" cy="230.6" r="1.1" fill="#2a2a2a" stroke="none" stroke-width="0"/>
<circle cx="130.525" cy="230.6" r="1.1" fill="#2a2a2a" stroke="none" stroke-width="0"/>
<circle cx="133.475" cy="230.6" r="1.1" fill="#2a2a2a" stroke="none" stroke-width="0"/>
<circle cx="136.425" cy="230.6" r="1.1" fill="#2a2a2a" stroke="none" stroke-width="0"/>
<polyline points="74.8,254.7 74.8,246.8 150.6,246.8 150.6,270.5" fill="none" stroke="#555" stroke-width="1.1" stroke-linejoin="round"/>
<circle cx="110.05" cy="242.6" r="1.1" fill="#2a2a2a" stroke="none" stroke-width="0"/>
<circle cx="113.0" cy="242.6" r="1.1" fill="#2a2a2a" stroke="none" stroke-width="0"/>
<circle cx="115.95" cy="242.6" r="1.1" fill="#2a2a2a" stroke="none" stroke-width="0"/>
<polyline points="74.8,289.8 74.8,259.2 113.0,259.2 113.0,272.8" fill="none" stroke="#555" stroke-width="1.1" stroke-linejoin="round"/>
<circle cx="94.0" cy="254.8" r="1.1" fill="#2a2a2a" stroke="none" stroke-width="0"/>
<line x1="280.1" y1="246.7" x2="280.1" y2="337.5" stroke="#333333" stroke-width="1.0"/>
<line x1="277.1" y1="337.0" x2="280.1" y2="337.0" stroke="#333333" stroke-width="1.0"/>
<text x="274.3" y="339.3" font-size="7.8" text-anchor="end" font-weight="normal" fill="#262626" stroke="#262626" stroke-width="0.06">0</text>
<line x1="277.1" y1="324.44" x2="280.1" y2="324.44" stroke="#333333" stroke-width="1.0"/>
<text x="252.8" y="326.89" font-size="6.9" text-anchor="start" font-weight="normal" fill="#262626" textLength="17.0" lengthAdjust="spacingAndGlyphs" stroke="#262626" stroke-width="0.06">1×10</text>
<text x="270.8" y="324.14" font-size="5.3" text-anchor="start" font-weight="normal" fill="#262626" textLength="2.8" lengthAdjust="spacingAndGlyphs" stroke="#262626" stroke-width="0.06">5</text>
<line x1="277.1" y1="311.88" x2="280.1" y2="311.88" stroke="#333333" stroke-width="1.0"/>
<text x="252.8" y="314.33" font-size="6.9" text-anchor="start" font-weight="normal" fill="#262626" textLength="17.0" lengthAdjust="spacingAndGlyphs" stroke="#262626" stroke-width="0.06">2×10</text>
<text x="270.8" y="311.58" font-size="5.3" text-anchor="start" font-weight="normal" fill="#262626" textLength="2.8" lengthAdjust="spacingAndGlyphs" stroke="#262626" stroke-width="0.06">5</text>
<line x1="277.1" y1="299.32" x2="280.1" y2="299.32" stroke="#333333" stroke-width="1.0"/>
<text x="252.8" y="301.77" font-size="6.9" text-anchor="start" font-weight="normal" fill="#262626" textLength="17.0" lengthAdjust="spacingAndGlyphs" stroke="#262626" stroke-width="0.06">3×10</text>
<text x="270.8" y="299.02" font-size="5.3" text-anchor="start" font-weight="normal" fill="#262626" textLength="2.8" lengthAdjust="spacingAndGlyphs" stroke="#262626" stroke-width="0.06">5</text>
<line x1="277.1" y1="286.76" x2="280.1" y2="286.76" stroke="#333333" stroke-width="1.0"/>
<text x="252.8" y="289.21" font-size="6.9" text-anchor="start" font-weight="normal" fill="#262626" textLength="17.0" lengthAdjust="spacingAndGlyphs" stroke="#262626" stroke-width="0.06">4×10</text>
<text x="270.8" y="286.46" font-size="5.3" text-anchor="start" font-weight="normal" fill="#262626" textLength="2.8" lengthAdjust="spacingAndGlyphs" stroke="#262626" stroke-width="0.06">5</text>
<line x1="277.1" y1="274.2" x2="280.1" y2="274.2" stroke="#333333" stroke-width="1.0"/>
<text x="252.8" y="276.65" font-size="6.9" text-anchor="start" font-weight="normal" fill="#262626" textLength="17.0" lengthAdjust="spacingAndGlyphs" stroke="#262626" stroke-width="0.06">5×10</text>
<text x="270.8" y="273.9" font-size="5.3" text-anchor="start" font-weight="normal" fill="#262626" textLength="2.8" lengthAdjust="spacingAndGlyphs" stroke="#262626" stroke-width="0.06">5</text>
<line x1="277.1" y1="261.64" x2="280.1" y2="261.64" stroke="#333333" stroke-width="1.0"/>
<text x="252.8" y="264.09" font-size="6.9" text-anchor="start" font-weight="normal" fill="#262626" textLength="17.0" lengthAdjust="spacingAndGlyphs" stroke="#262626" stroke-width="0.06">6×10</text>
<text x="270.8" y="261.34" font-size="5.3" text-anchor="start" font-weight="normal" fill="#262626" textLength="2.8" lengthAdjust="spacingAndGlyphs" stroke="#262626" stroke-width="0.06">5</text>
<line x1="277.1" y1="249.07999999999998" x2="280.1" y2="249.07999999999998" stroke="#333333" stroke-width="1.0"/>
<text x="252.8" y="251.53" font-size="6.9" text-anchor="start" font-weight="normal" fill="#262626" textLength="17.0" lengthAdjust="spacingAndGlyphs" stroke="#262626" stroke-width="0.06">7×10</text>
<text x="270.8" y="248.78" font-size="5.3" text-anchor="start" font-weight="normal" fill="#262626" textLength="2.8" lengthAdjust="spacingAndGlyphs" stroke="#262626" stroke-width="0.06">5</text>
<line x1="278.1" y1="337.0" x2="368.5" y2="337.0" stroke="#333333" stroke-width="1.0"/>
<line x1="280.1" y1="337.0" x2="280.1" y2="339.5" stroke="#333333" stroke-width="1.0"/>
<text x="280.1" y="349.6" font-size="7.8" text-anchor="middle" font-weight="normal" fill="#262626" stroke="#262626" stroke-width="0.06">0</text>
<line x1="301.55" y1="337.0" x2="301.55" y2="339.5" stroke="#333333" stroke-width="1.0"/>
<text x="301.55" y="349.6" font-size="7.8" text-anchor="middle" font-weight="normal" fill="#262626" stroke="#262626" stroke-width="0.06">500</text>
<line x1="323.0" y1="337.0" x2="323.0" y2="339.5" stroke="#333333" stroke-width="1.0"/>
<text x="323.0" y="349.6" font-size="7.8" text-anchor="middle" font-weight="normal" fill="#262626" stroke="#262626" stroke-width="0.06">1000</text>
<line x1="344.45000000000005" y1="337.0" x2="344.45000000000005" y2="339.5" stroke="#333333" stroke-width="1.0"/>
<text x="344.45000000000005" y="349.6" font-size="7.8" text-anchor="middle" font-weight="normal" fill="#262626" stroke="#262626" stroke-width="0.06">1500</text>
<line x1="365.90000000000003" y1="337.0" x2="365.90000000000003" y2="339.5" stroke="#333333" stroke-width="1.0"/>
<text x="365.90000000000003" y="349.6" font-size="7.8" text-anchor="middle" font-weight="normal" fill="#262626" stroke="#262626" stroke-width="0.06">2000</text>
<text x="309.8" y="362.6" font-size="8.6" text-anchor="start" font-weight="bold" fill="#333" textLength="28.8" lengthAdjust="spacingAndGlyphs">Time (sec)</text>
<text transform="translate(247.8,287.3) rotate(-90)" x="0" y="0" font-size="8.6" text-anchor="middle" font-weight="normal" fill="#262626" textLength="71.6" lengthAdjust="spacingAndGlyphs" stroke="#262626" stroke-width="0.28">ATP-luciferase (light units)</text>
<polyline points="280.1,310.62 281.82,308.92 283.53,307.25 285.25,305.62 286.96,304.02 288.68,302.45 290.4,300.92 292.11,299.42 293.83,297.95 295.54,296.51 297.26,295.1 298.98,293.72 300.69,292.37 302.41,291.05 304.12,289.75 305.84,288.48 307.56,287.24 309.27,286.02 310.99,284.83 312.7,283.67 314.42,282.53 316.14,281.41 317.85,280.31 319.57,279.24 321.28,278.19 323.0,277.16 324.72,276.16 326.43,275.17 328.15,274.21 329.86,273.26 331.58,272.34 333.3,271.43 335.01,270.54 336.73,269.68 338.44,268.83 340.16,267.99 341.88,267.18 343.59,266.38 345.31,265.6 347.02,264.83 348.74,264.08 350.46,263.35 352.17,262.63 353.89,261.93 355.6,261.24 357.32,260.56 359.04,259.9 360.75,259.26 362.47,258.62 364.18,258.0 365.9,257.4" fill="none" stroke="#1f4e7a" stroke-width="1.7" stroke-linejoin="round"/>
<polyline points="280.1,312.51 281.82,311.06 283.53,309.64 285.25,308.25 286.96,306.89 288.68,305.56 290.4,304.25 292.11,302.97 293.83,301.72 295.54,300.5 297.26,299.3 298.98,298.12 300.69,296.97 302.41,295.85 304.12,294.75 305.84,293.67 307.56,292.61 309.27,291.57 310.99,290.56 312.7,289.57 314.42,288.6 316.14,287.64 317.85,286.71 319.57,285.8 321.28,284.91 323.0,284.03 324.72,283.18 326.43,282.34 328.15,281.52 329.86,280.71 331.58,279.93 333.3,279.16 335.01,278.4 336.73,277.66 338.44,276.94 340.16,276.23 341.88,275.54 343.59,274.86 345.31,274.19 347.02,273.54 348.74,272.9 350.46,272.28 352.17,271.67 353.89,271.07 355.6,270.48 357.32,269.91 359.04,269.34 360.75,268.79 362.47,268.26 364.18,267.73 365.9,267.21" fill="none" stroke="#c8102e" stroke-width="1.7" stroke-linejoin="round"/>
<circle cx="304.0" cy="373.0" r="1.45" fill="#1f3f6a" stroke="none" stroke-width="0"/>
<text x="308.3" y="375.3" font-size="7.3" text-anchor="start" font-weight="normal" fill="#262626" textLength="8.4" lengthAdjust="spacingAndGlyphs" stroke="#262626" stroke-width="0.06">CT</text>
<rect x="323.4" y="371.6" width="2.8" height="3.0" fill="#b0132e"/>
<text x="329.8" y="375.3" font-size="7.3" text-anchor="start" font-weight="normal" fill="#262626" textLength="16.3" lengthAdjust="spacingAndGlyphs" stroke="#262626" stroke-width="0.06">10Gy</text>
<line x1="412.8" y1="247.2" x2="412.8" y2="337.7" stroke="#333333" stroke-width="1.0"/>
<line x1="409.8" y1="249.6" x2="412.8" y2="249.6" stroke="#333333" stroke-width="1.0"/>
<text x="407.2" y="251.79999999999998" font-size="7.8" text-anchor="end" font-weight="normal" fill="#262626" stroke="#262626" stroke-width="0.06">1.5</text>
<line x1="409.8" y1="278.8" x2="412.8" y2="278.8" stroke="#333333" stroke-width="1.0"/>
<text x="407.2" y="281.0" font-size="7.8" text-anchor="end" font-weight="normal" fill="#262626" stroke="#262626" stroke-width="0.06">1.0</text>
<line x1="409.8" y1="308.0" x2="412.8" y2="308.0" stroke="#333333" stroke-width="1.0"/>
<text x="407.2" y="310.2" font-size="7.8" text-anchor="end" font-weight="normal" fill="#262626" stroke="#262626" stroke-width="0.06">0.5</text>
<line x1="409.8" y1="337.2" x2="412.8" y2="337.2" stroke="#333333" stroke-width="1.0"/>
<text x="407.2" y="339.4" font-size="7.8" text-anchor="end" font-weight="normal" fill="#262626" stroke="#262626" stroke-width="0.06">0.0</text>
<line x1="410.8" y1="337.2" x2="463.8" y2="337.2" stroke="#333333" stroke-width="1.0"/>
<text transform="translate(390.3,288.3) rotate(-90)" x="0" y="0" font-size="8.6" text-anchor="middle" font-weight="normal" fill="#262626" textLength="72" lengthAdjust="spacingAndGlyphs" stroke="#262626" stroke-width="0.28">ATP synthesis (fold change)</text>
<rect x="420.8" y="278.8" width="13.4" height="58.39999999999998" fill="#8c9cc2"/>
<rect x="442.9" y="290.6" width="13.0" height="46.599999999999966" fill="#e48b7b"/>
<line x1="427.4" y1="337.2" x2="427.4" y2="339.7" stroke="#333333" stroke-width="1.0"/>
<text x="427.4" y="350.0" font-size="8.0" text-anchor="middle" font-weight="normal" fill="#262626" textLength="9.6" lengthAdjust="spacingAndGlyphs" stroke="#262626" stroke-width="0.06">CT</text>
<line x1="448.9" y1="337.2" x2="448.9" y2="339.7" stroke="#333333" stroke-width="1.0"/>
<text x="448.9" y="350.0" font-size="8.0" text-anchor="middle" font-weight="normal" fill="#262626" textLength="17.8" lengthAdjust="spacingAndGlyphs" stroke="#262626" stroke-width="0.06">10Gy</text>
<circle cx="421.5" cy="278.3" r="1.3" fill="#1c4a7a" stroke="none" stroke-width="0"/>
<circle cx="425.3" cy="278.3" r="1.3" fill="#1c4a7a" stroke="none" stroke-width="0"/>
<circle cx="429.1" cy="278.3" r="1.3" fill="#1c4a7a" stroke="none" stroke-width="0"/>
<circle cx="432.9" cy="278.3" r="1.3" fill="#1c4a7a" stroke="none" stroke-width="0"/>
<line x1="449" y1="283.3" x2="449" y2="296" stroke="#c8102e" stroke-width="0.9"/>
<line x1="445" y1="283.3" x2="453" y2="283.3" stroke="#c8102e" stroke-width="0.9"/>
<line x1="445" y1="290.6" x2="453" y2="290.6" stroke="#c8102e" stroke-width="0.9"/>
<line x1="445" y1="296" x2="453" y2="296" stroke="#c8102e" stroke-width="0.9"/>
<circle cx="449" cy="283.3" r="1.3" fill="#c8102e" stroke="none" stroke-width="0"/>
<circle cx="449" cy="288.2" r="1.3" fill="#c8102e" stroke="none" stroke-width="0"/>
<circle cx="449" cy="291.8" r="1.3" fill="#c8102e" stroke="none" stroke-width="0"/>
<circle cx="449" cy="295.5" r="1.3" fill="#c8102e" stroke="none" stroke-width="0"/>
<polyline points="427.2,271.3 427.2,268.1 449.1,268.1 449.1,277.5" fill="none" stroke="#444" stroke-width="1.0" stroke-linejoin="round"/>
<circle cx="436.92499999999995" cy="264.3" r="1.1" fill="#2a2a2a" stroke="none" stroke-width="0"/>
<circle cx="439.87499999999994" cy="264.3" r="1.1" fill="#2a2a2a" stroke="none" stroke-width="0"/>
</svg>
</body></html>
